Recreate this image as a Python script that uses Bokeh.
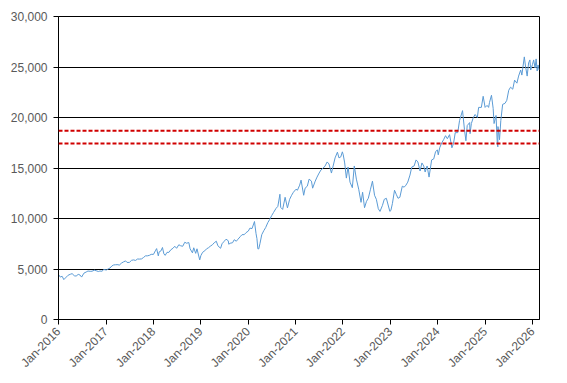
import pandas as pd
from math import pi
from datetime import datetime
from bokeh.plotting import figure
from bokeh.models import (Range1d, FixedTicker, DatetimeTickFormatter,
                          NumeralTickFormatter, Span, ColumnDataSource)
from bokeh.embed import file_html
from bokeh.resources import INLINE

# ---- data (index level) ----
dates = [
    "2016-01-04", "2016-01-15", "2016-01-29", "2016-02-11", "2016-03-01", "2016-03-15",
    "2016-04-01", "2016-04-15", "2016-05-02", "2016-05-16", "2016-06-01", "2016-06-15",
    "2016-06-27", "2016-07-15", "2016-08-01", "2016-08-15", "2016-09-01", "2016-09-15",
    "2016-10-03", "2016-10-17", "2016-11-03", "2016-11-15", "2016-12-01", "2016-12-15",
    "2017-01-03", "2017-01-17", "2017-02-01", "2017-02-15", "2017-03-01", "2017-03-15",
    "2017-04-03", "2017-04-13", "2017-05-01", "2017-05-15", "2017-06-01", "2017-06-12",
    "2017-06-30", "2017-07-17", "2017-08-01", "2017-08-17", "2017-09-01", "2017-09-15",
    "2017-10-02", "2017-10-16", "2017-11-01", "2017-11-15", "2017-12-01", "2017-12-15",
    "2018-01-02", "2018-01-16", "2018-01-26", "2018-02-08", "2018-02-15", "2018-03-01",
    "2018-03-12", "2018-03-23", "2018-04-02", "2018-04-16", "2018-05-01", "2018-05-15",
    "2018-06-01", "2018-06-15", "2018-06-29", "2018-07-16", "2018-07-30", "2018-08-15",
    "2018-08-31", "2018-09-14", "2018-10-01", "2018-10-11", "2018-10-29", "2018-11-08",
    "2018-11-23", "2018-12-03", "2018-12-24",
    "2019-01-02", "2019-01-15", "2019-02-01", "2019-02-15", "2019-03-01", "2019-03-15",
    "2019-04-01", "2019-04-15", "2019-05-01", "2019-05-13", "2019-06-03", "2019-06-14",
    "2019-07-01", "2019-07-15", "2019-08-01", "2019-08-05", "2019-08-15", "2019-09-03",
    "2019-09-16", "2019-10-02", "2019-10-15", "2019-11-01", "2019-11-15", "2019-12-02",
    "2019-12-16",
    "2020-01-02", "2020-01-15", "2020-01-31", "2020-02-19", "2020-03-02", "2020-03-09",
    "2020-03-16", "2020-03-23", "2020-04-01", "2020-04-15", "2020-05-01", "2020-05-15",
    "2020-06-01", "2020-06-15", "2020-07-01", "2020-07-15", "2020-08-03", "2020-08-17",
    "2020-09-02", "2020-09-08", "2020-09-23", "2020-10-12", "2020-10-30", "2020-11-16",
    "2020-12-01", "2020-12-15",
    "2021-01-04", "2021-01-15", "2021-02-01", "2021-02-12", "2021-03-04", "2021-03-15",
    "2021-04-01", "2021-04-15", "2021-05-03", "2021-05-12", "2021-06-01", "2021-06-15",
    "2021-07-01", "2021-07-15", "2021-08-02", "2021-08-16", "2021-09-01", "2021-09-15",
    "2021-10-04", "2021-10-15", "2021-11-01", "2021-11-19", "2021-12-01", "2021-12-15",
    "2021-12-27",
    "2022-01-03", "2022-01-14", "2022-01-27", "2022-02-09", "2022-02-24", "2022-03-14",
    "2022-03-29", "2022-04-14", "2022-05-02", "2022-05-20", "2022-06-01", "2022-06-16",
    "2022-07-01", "2022-07-15", "2022-08-01", "2022-08-16", "2022-09-01", "2022-09-15",
    "2022-09-30", "2022-10-13", "2022-11-01", "2022-11-15", "2022-12-01", "2022-12-28",
    "2023-01-05", "2023-01-17", "2023-02-02", "2023-02-15", "2023-03-01", "2023-03-15",
    "2023-04-03", "2023-04-17", "2023-05-01", "2023-05-15", "2023-06-01", "2023-06-15",
    "2023-07-03", "2023-07-18", "2023-08-01", "2023-08-18", "2023-09-01", "2023-09-15",
    "2023-09-26", "2023-10-11", "2023-10-26", "2023-11-15", "2023-12-01", "2023-12-15",
    "2023-12-29",
    "2024-01-05", "2024-01-16", "2024-02-01", "2024-02-15", "2024-03-01", "2024-03-15",
    "2024-04-01", "2024-04-19", "2024-05-01", "2024-05-15", "2024-06-03", "2024-06-17",
    "2024-07-10", "2024-07-25", "2024-08-05", "2024-08-15", "2024-09-03", "2024-09-06",
    "2024-09-16", "2024-10-01", "2024-10-15", "2024-11-01", "2024-11-11", "2024-12-02",
    "2024-12-16", "2024-12-31",
    "2025-01-15", "2025-01-27", "2025-02-03", "2025-02-18", "2025-03-03", "2025-03-10",
    "2025-03-25", "2025-04-04", "2025-04-08", "2025-04-09", "2025-04-21", "2025-05-01",
    "2025-05-15", "2025-06-02", "2025-06-16", "2025-07-01", "2025-07-15", "2025-08-01",
    "2025-08-15", "2025-09-02", "2025-09-15", "2025-10-01", "2025-10-10", "2025-10-29",
    "2025-11-07", "2025-11-20", "2025-12-01", "2025-12-11", "2025-12-17", "2025-12-31",
    "2026-01-09", "2026-01-20", "2026-01-28", "2026-02-05", "2026-02-12", "2026-02-20",
]
values = [
    4400, 4200, 4280, 3950, 4200, 4380,
    4480, 4540, 4330, 4300, 4470, 4400,
    4200, 4590, 4700, 4800, 4770, 4780,
    4880, 4830, 4750, 4800, 4780, 4950,
    4900, 5000, 5100, 5300, 5400, 5420,
    5430, 5380, 5590, 5700, 5800, 5650,
    5650, 5860, 5900, 5850, 5990, 5980,
    6000, 6130, 6300, 6300, 6350, 6450,
    6450, 6800, 7020, 6300, 6700, 6800,
    7130, 6500, 6350, 6650, 6650, 6900,
    7050, 7250, 7050, 7400, 7300, 7250,
    7650, 7550, 7620, 7000, 6600, 7100,
    6550, 7000, 5900,
    6330, 6650, 6800, 7000, 7100, 7250,
    7400, 7600, 7750, 7300, 7050, 7500,
    7750, 7950, 7800, 7450, 7550, 7600,
    7900, 7750, 7950, 8200, 8400, 8400,
    8600,
    8750, 9050, 9000, 9700, 8500, 8000,
    7000, 6990, 7500, 8400, 8800, 9100,
    9600, 9900, 10300, 10600, 11000, 11200,
    12400, 11100, 10900, 12100, 11050, 11900,
    12300, 12600,
    12900, 12800, 13300, 13800, 12300, 13000,
    13200, 13900, 13700, 13000, 13700, 14100,
    14500, 14800, 15000, 15200, 15600, 15400,
    14500, 15100, 16000, 16570, 16000, 16100,
    16600,
    16300, 15500, 14000, 15100, 13600, 13050,
    15200, 13900, 12900, 11600, 12600, 11070,
    11700, 12000, 12900, 13700, 12300, 11900,
    10970, 10700, 11300, 11900, 12000, 10700,
    10800, 11500, 12800, 12400, 12000, 12100,
    13200, 13100, 13300, 13600, 14300, 15100,
    15200, 15800, 15600, 14700, 15500, 15200,
    14600, 15200, 14100, 15800, 15900, 16600,
    16800,
    16300, 17000, 17500, 17800, 18200, 17900,
    18300, 17000, 17400, 18500, 18500, 19700,
    20680, 18800, 17700, 19200, 19500, 18400,
    19400, 20000, 20300, 20000, 21000, 21000,
    22100, 21000,
    21200, 21000, 21500, 22200, 20900, 19400,
    20200, 17400, 17100, 19100, 17800, 19700,
    21300, 21400, 21700, 22700, 23000, 22800,
    23700, 23400, 24100, 24700, 24200, 26000,
    25100, 24100, 25400, 25700, 24700, 25250,
    25700, 24900, 25800, 24600, 25200, 24700,
]
ref_levels = [18700, 17430]
year_ticks = list(range(2016, 2027))
y_ticks = [0, 5000, 10000, 15000, 20000, 25000, 30000]

src = ColumnDataSource(dict(x=pd.to_datetime(dates), y=values))

p = figure(width=559, height=380, output_backend="svg", toolbar_location=None,
           x_axis_type="datetime",
           x_range=Range1d(datetime(2016, 1, 1), datetime(2026, 2, 23)),
           y_range=Range1d(0, 30000),
           min_border_left=58, min_border_right=20, min_border_top=16,
           min_border_bottom=61)
p.background_fill_color = "white"
p.border_fill_color = "white"
p.outline_line_color = "black"
p.outline_line_width = 1

p.line("x", "y", source=src, line_color="#5B9BD5", line_width=1)

for lv in ref_levels:
    p.add_layout(Span(location=lv, dimension="width", line_color="#D00000",
                      line_width=2, line_dash="4 2"))

p.xgrid.visible = False
p.ygrid.grid_line_color = "black"
p.ygrid.grid_line_width = 1
p.ygrid.ticker = FixedTicker(ticks=y_ticks)

p.yaxis.ticker = FixedTicker(ticks=y_ticks)
p.yaxis.formatter = NumeralTickFormatter(format="0,0")
p.xaxis.ticker = FixedTicker(ticks=[datetime(y, 1, 1).timestamp() * 1000 for y in year_ticks])
fmt = "%b-%Y"
p.xaxis.formatter = DatetimeTickFormatter(years=fmt, months=fmt, days=fmt, hours=fmt,
                                          hourmin=fmt, minutes=fmt, minsec=fmt,
                                          seconds=fmt, milliseconds=fmt,
                                          microseconds=fmt)
p.xaxis.major_label_orientation = pi / 4

for ax in (p.xaxis, p.yaxis):
    ax.axis_line_color = "black"
    ax.axis_line_width = 1
    ax.major_tick_line_color = "black"
    ax.major_tick_in = 0
    ax.major_tick_out = 5
    ax.minor_tick_line_color = None
    ax.major_label_text_color = "#595959"
    ax.major_label_text_font = "Liberation Sans"
    ax.major_label_text_font_size = "12px"
p.yaxis.major_label_standoff = 6
p.xaxis.major_label_standoff = 5

with open("out.html", "w") as f:
    f.write(file_html(p, INLINE))
